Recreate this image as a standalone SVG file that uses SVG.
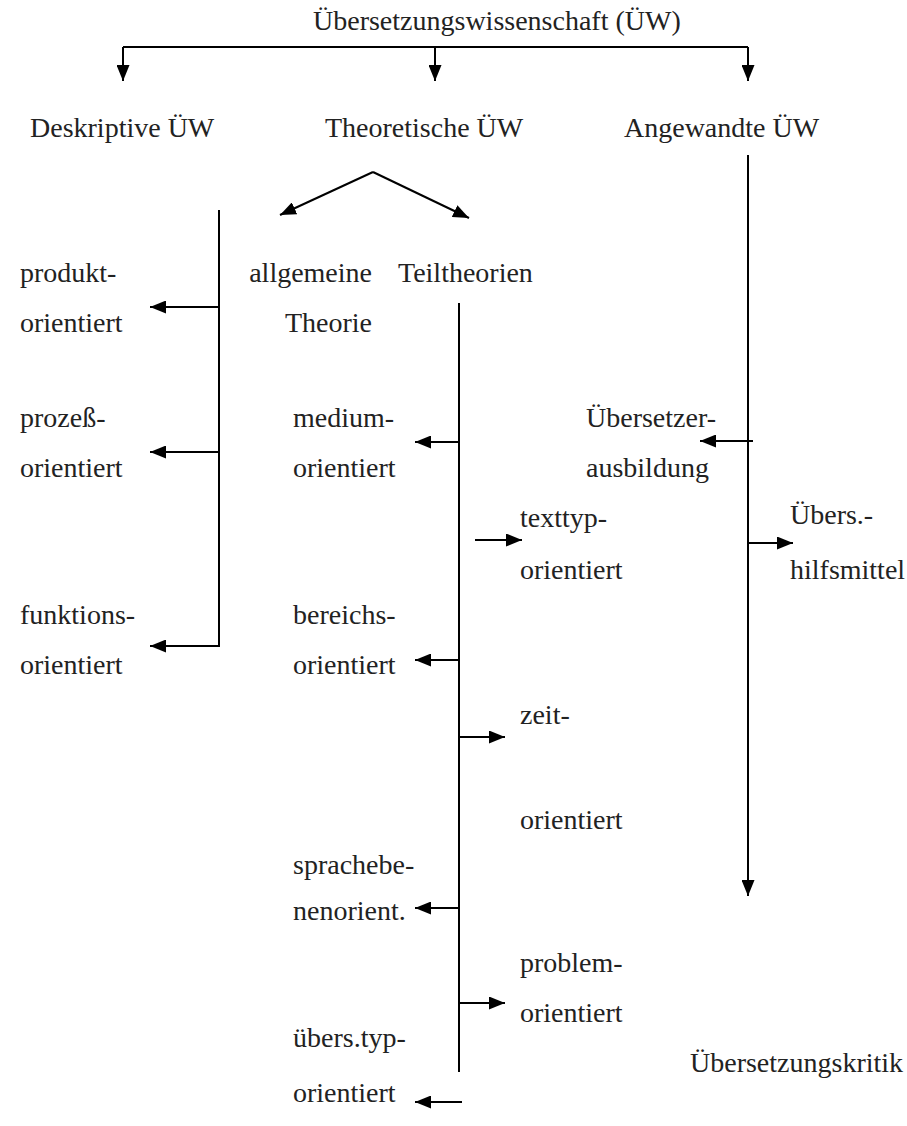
<svg xmlns="http://www.w3.org/2000/svg" width="907" height="1126" viewBox="0 0 907 1126">
<defs>
<marker id="ah" viewBox="0 0 16 13" refX="16" refY="6.5" markerWidth="16" markerHeight="13" orient="auto" markerUnits="userSpaceOnUse"><path d="M0,0 L16,6.5 L0,13 z" fill="#000"/></marker>
<style>
text{font-family:"Liberation Serif","Times New Roman",serif;font-size:28px;fill:#222}
.c{stroke:#000;stroke-width:2;fill:none}
.a{stroke:#000;stroke-width:2;fill:none;marker-end:url(#ah)}
</style>
</defs>
<rect width="907" height="1126" fill="#fff"/>
<g id="connectors">
<path class="c" d="M123,47 H748"/>
<path class="a" d="M123,47 V81"/>
<path class="a" d="M435,47 V81"/>
<path class="a" d="M748,47 V81"/>
<path class="a" d="M373,172 L280,215"/>
<path class="a" d="M373,172 L469,218"/>
<path class="c" d="M219,210 V647"/>
<path class="a" d="M219,307 H150"/>
<path class="a" d="M219,452 H150"/>
<path class="a" d="M219,646 H150"/>
<path class="c" d="M459,303 V1072"/>
<path class="a" d="M459,442 H415"/>
<path class="a" d="M475,540 H522"/>
<path class="a" d="M459,660 H415"/>
<path class="a" d="M459,737 H505"/>
<path class="a" d="M459,908 H415"/>
<path class="a" d="M459,1003 H505"/>
<path class="a" d="M462,1102 H415"/>
<path class="a" d="M748,155 V896"/>
<path class="a" d="M753,441 H700"/>
<path class="a" d="M748,543 H793"/>
</g>
<g id="root"><text x="313" y="30">Übersetzungswissenschaft (ÜW)</text></g>
<g id="deskriptiv"><text x="30" y="137">Deskriptive ÜW</text></g>
<g id="theoretisch"><text x="325" y="137">Theoretische ÜW</text></g>
<g id="angewandt"><text x="624" y="137">Angewandte ÜW</text></g>
<g id="produkt"><text x="20" y="282">produkt-</text><text x="20" y="332">orientiert</text></g>
<g id="prozess"><text x="20" y="427">prozeß-</text><text x="20" y="477">orientiert</text></g>
<g id="funktions"><text x="20" y="624">funktions-</text><text x="20" y="674">orientiert</text></g>
<g id="allgemein"><text x="372" y="282" text-anchor="end">allgemeine</text><text x="372" y="332" text-anchor="end">Theorie</text></g>
<g id="teiltheorien"><text x="398" y="282">Teiltheorien</text></g>
<g id="medium"><text x="293" y="427">medium-</text><text x="293" y="477">orientiert</text></g>
<g id="texttyp"><text x="520" y="527">texttyp-</text><text x="520" y="579">orientiert</text></g>
<g id="bereichs"><text x="293" y="624">bereichs-</text><text x="293" y="674">orientiert</text></g>
<g id="zeit"><text x="520" y="724">zeit-</text><text x="520" y="829">orientiert</text></g>
<g id="sprachebene"><text x="293" y="874">sprachebe-</text><text x="293" y="920">nenorient.</text></g>
<g id="problem"><text x="520" y="972">problem-</text><text x="520" y="1022">orientiert</text></g>
<g id="uebersetzungstyp"><text x="293" y="1047">übers.typ-</text><text x="293" y="1102">orientiert</text></g>
<g id="ausbildung"><text x="586" y="427">Übersetzer-</text><text x="586" y="477">ausbildung</text></g>
<g id="hilfsmittel"><text x="790" y="524">Übers.-</text><text x="790" y="579">hilfsmittel</text></g>
<g id="kritik"><text x="690" y="1072">Übersetzungskritik</text></g>
</svg>
